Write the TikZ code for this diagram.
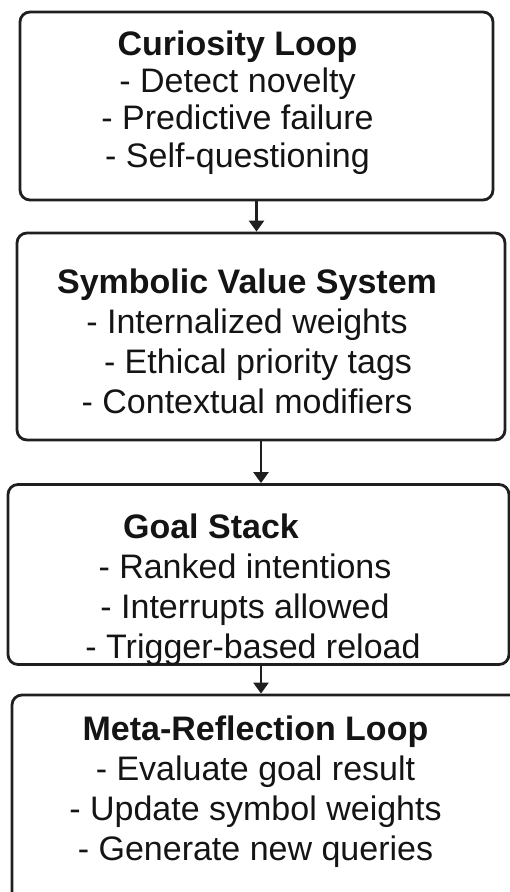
\documentclass[tikz,border=0pt]{standalone}
\usepackage{fontspec}
\setmainfont{Liberation Sans}
\usetikzlibrary{arrows.meta, positioning, calc}
\definecolor{boxLine}{gray}{0.12}
\definecolor{textBlack}{gray}{0.08}

\begin{document}
\begin{tikzpicture}[x=1pt, y=-1pt, >={Triangle[width=15pt, length=11pt]},
    block/.style={draw=boxLine, line width=2.8pt, rounded corners=10pt, inner sep=0pt},
    blocktext/.style={align=center, anchor=base, text=textBlack, inner sep=0pt, font=\fontsize{34}{40}\selectfont},
    flow/.style={->, line width=2.5pt, boxLine}]
    \useasboundingbox (0,0) rectangle (510,892);
    \clip (0,0) rectangle (510,892);

    % Boxes
    \node[block, minimum width=473pt, minimum height=188pt] (curiosity) at (256.5,106) {};
    \node[block, minimum width=488pt, minimum height=207pt] (value) at (261,336.5) {};
    \node[block, minimum width=501pt, minimum height=180pt] (goal) at (258.5,574.5) {};
    \node[block, minimum width=510pt, minimum height=210pt] (meta) at (267,800) {};

    % Texts (anchored on the last line)
    \node[blocktext, font=\fontsize{34}{37.3}\selectfont] (curiositytext) at (237.5,167)
        {\textbf{Curiosity Loop}\\- Detect novelty\\- Predictive failure\\- Self-questioning};
    \node[blocktext] (valuetext) at (247,413)
        {\textbf{Symbolic Value System}\\- Internalized weights\hspace*{26pt}\\\hspace*{22pt}- Ethical priority tags\\- Contextual modifiers};
    \node[blocktext] (goaltext) at (245,658)
        {\textbf{Goal Stack}\hspace*{68pt}\\- Ranked intentions\hspace*{10pt}\\- Interrupts allowed\\\hspace*{16pt}- Trigger-based reload};
    \node[blocktext] (metatext) at (255.5,860)
        {\textbf{Meta-Reflection Loop}\\- Evaluate goal result\\- Update symbol weights\\- Generate new queries};

    % Arrows
    \draw[flow] (curiosity.south) -- (curiosity.south |- value.north);
    \draw[flow] (value.south) -- (value.south |- goal.north);
    \draw[flow] (goal.south -| value.south) -- (value.south |- meta.north);
\end{tikzpicture}
\end{document}
